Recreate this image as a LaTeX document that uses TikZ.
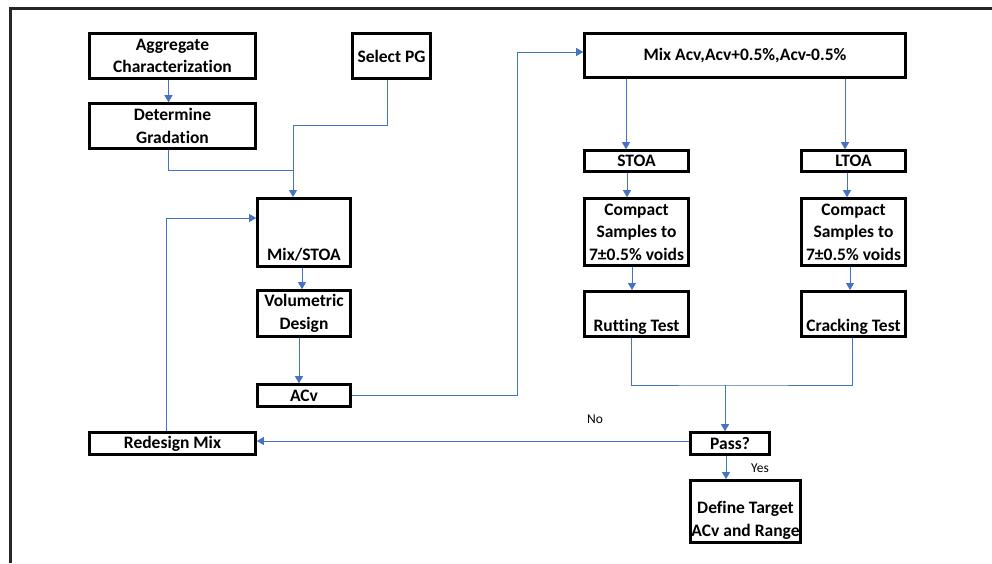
\documentclass[tikz,border=0pt]{standalone}
\usepackage{fontspec}
\setmainfont{Carlito}[Ligatures=NoCommon]
\usetikzlibrary{arrows.meta}
\begin{document}
\begin{tikzpicture}[x=1pt,y=-1pt,
  box/.style={draw,line width=2.6pt,align=center,inner sep=1pt,
    font=\fontsize{17.5}{22.5}\selectfont\bfseries},
  flow/.style={draw=flowblue,line width=0.8pt},
  arrowed/.style={-{Triangle[length=7pt,width=8pt]}},
  answer/.style={font=\fontsize{13.5}{15}\selectfont}]
  \definecolor{flowblue}{HTML}{4472C4}
  \useasboundingbox (0,0) rectangle (992,563);
  \draw [line width=3pt,black!85] (10.5,563) -- (10.5,8.5) -- (992,8.5);
  \node [box,minimum width=166pt,minimum height=45pt] (agg) at (172.5,56) {Aggregate\\Characterization};
  \node [box,minimum width=166pt,minimum height=45pt] (det) at (172.5,126) {Determine\\Gradation};
  \node [box,minimum width=78pt,minimum height=45pt] (pg) at (391.5,56) {Select PG};
  \node [box,minimum width=93pt,text height=60.7pt,text depth=5.7pt] (mixstoa) at (304,232.5) {Mix/STOA};
  \node [box,minimum width=93pt,minimum height=46pt] (vol) at (304,313.5) {Volumetric\\Design};
  \node [box,minimum width=93pt,minimum height=22pt] (acv) at (304,395.5) {ACv};
  \node [box,minimum width=166pt,minimum height=22pt] (redesign) at (172.5,443.5) {Redesign Mix};
  \node [box,minimum width=321pt,minimum height=44pt] (mixacv) at (745,55.5) {Mix Acv,Acv+0.5\%,Acv-0.5\%};
  \node [box,minimum width=104pt,minimum height=21pt] (stoa) at (636.5,161) {STOA};
  \node [box,minimum width=104pt,minimum height=21pt] (ltoa) at (853.5,161) {LTOA};
  \node [box,minimum width=104pt,minimum height=67pt] (compa) at (636.5,232) {Compact\\Samples to\\7±0.5\% voids};
  \node [box,minimum width=104pt,minimum height=67pt] (compb) at (853.5,232) {Compact\\Samples to\\7±0.5\% voids};
  \node [box,minimum width=104pt,text height=38.7pt,text depth=4.7pt] (rut) at (636.5,314) {Rutting Test};
  \node [box,minimum width=104pt,text height=38.7pt,text depth=4.7pt] (crack) at (853.5,314) {Cracking Test};
  \node [box,minimum width=79pt,minimum height=22pt] (pass) at (730,443.5) {Pass?};
  \node [box,minimum width=110pt,text height=54.7pt,text depth=5.7pt] (define) at (745.5,511.5) {Define Target\\ACv and Range};
  \node [answer] (no) at (595,419) {No};
  \node [answer] (yes) at (760,468) {Yes};
  \coordinate (join) at (293,170);
  \coordinate (bend) at (293,125);
  \coordinate (turn) at (517,52);
  \coordinate (merge) at (725,385);
  \draw [flow,arrowed] ([xshift=-4pt]agg.south) -- ([xshift=-4pt]det.north);
  \draw [flow] ([xshift=-4.5pt]det.south) |- (join);
  \draw [flow,arrowed] ([xshift=-4.5pt]pg.south) |- (bend) -- ([xshift=-11pt]mixstoa.north);
  \draw [flow,arrowed] ([xshift=-2pt]mixstoa.south) -- ([xshift=-2pt]vol.north);
  \draw [flow,arrowed] ([xshift=-5pt]vol.south) -- ([xshift=-5pt]acv.north);
  \draw [flow,arrowed] (acv.east) -| (turn) -- ([yshift=3.5pt]mixacv.west);
  \draw [flow,arrowed] ([xshift=-10.5pt]stoa.north |- mixacv.south) -- ([xshift=-10.5pt]stoa.north);
  \draw [flow,arrowed] ([xshift=-8.5pt]ltoa.north |- mixacv.south) -- ([xshift=-8.5pt]ltoa.north);
  \draw [flow,arrowed] ([xshift=-9.5pt]stoa.south) -- ([xshift=-9.5pt]compa.north);
  \draw [flow,arrowed] ([xshift=-6.5pt]ltoa.south) -- ([xshift=-6.5pt]compb.north);
  \draw [flow,arrowed] ([xshift=-4.5pt]compa.south) -- ([xshift=-4.5pt]rut.north);
  \draw [flow,arrowed] ([xshift=-3.5pt]compb.south) -- ([xshift=-3.5pt]crack.north);
  \draw [flow] ([xshift=-5.5pt]rut.south) |- (merge) -| ([xshift=-1.5pt]crack.south);
  \draw [flow,arrowed] (merge) -- ([xshift=-5pt]pass.north);
  \draw [flow,arrowed] ([yshift=2.5pt]pass.west) -- ([yshift=2.5pt]redesign.east);
  \draw [flow,arrowed] ([xshift=-6.5pt]redesign.north) |- ([yshift=14.5pt]mixstoa.west);
  \draw [flow,arrowed] ([xshift=-4pt]pass.south) -- ([xshift=-4pt]pass.south |- define.north);
\end{tikzpicture}
\end{document}
